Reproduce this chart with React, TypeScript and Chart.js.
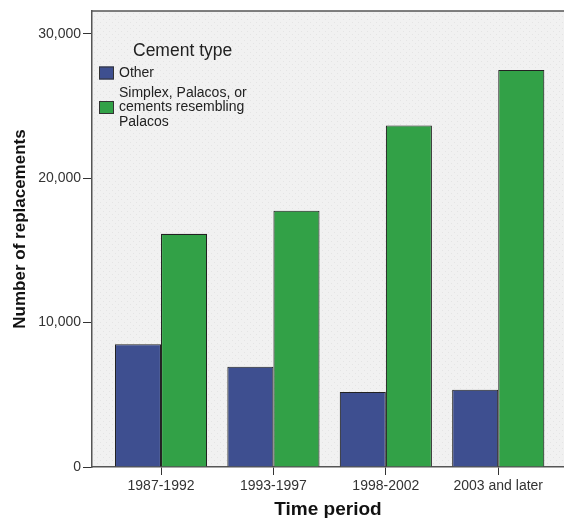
import { useEffect, useRef } from 'react';
import { Chart, registerables } from 'chart.js';

Chart.register(...registerables);

const categories = ['1987-1992', '1993-1997', '1998-2002', '2003 and later'];
const seriesNames = ['Other', 'Simplex, Palacos, or cements resembling Palacos'];
const legendLines = [['Other'], ['Simplex, Palacos, or', 'cements resembling', 'Palacos']];
const otherValues = [8500, 6950, 5200, 5350];
const simplexValues = [16150, 17750, 23650, 27500];
const yTicks = [0, 10000, 20000, 30000];
const legendTitle = 'Cement type';
const xTitle = 'Time period';
const yTitle = 'Number of replacements';

const FONT = "'Liberation Sans', Arial, sans-serif";
const COLORS = ['#3e4f90', '#32a147'];

function makePattern(ctx: CanvasRenderingContext2D) {
  const c = document.createElement('canvas');
  c.width = 6;
  c.height = 6;
  const p = c.getContext('2d')!;
  p.fillStyle = '#f1f1f1';
  p.fillRect(0, 0, 6, 6);
  p.fillStyle = '#e4e4e4';
  p.fillRect(1, 1, 1, 1);
  p.fillRect(4, 4, 1, 1);
  return ctx.createPattern(c, 'repeat');
}

const framePlugin = {
  id: 'frame',
  beforeDraw(chart: any) {
    const { ctx, chartArea } = chart;
    ctx.save();
    ctx.fillStyle = makePattern(ctx) || '#f1f1f1';
    ctx.fillRect(chartArea.left, chartArea.top, chartArea.right - chartArea.left, chartArea.bottom - chartArea.top);
    ctx.restore();
  },
  afterDraw(chart: any) {
    const { ctx, chartArea } = chart;
    ctx.save();
    ctx.strokeStyle = '#555';
    ctx.lineWidth = 1.5;
    ctx.beginPath();
    ctx.moveTo(chartArea.left, chartArea.top);
    ctx.lineTo(chartArea.right, chartArea.top);
    ctx.stroke();

    // y-axis title
    ctx.save();
    ctx.translate(20, 229);
    ctx.rotate(-Math.PI / 2);
    ctx.fillStyle = '#111';
    ctx.font = `bold 17px ${FONT}`;
    ctx.textAlign = 'center';
    ctx.textBaseline = 'middle';
    ctx.fillText(yTitle, 0, 0);
    ctx.restore();

    // legend
    const ds = chart.data.datasets;
    ctx.fillStyle = '#222';
    ctx.font = `17.5px ${FONT}`;
    ctx.textAlign = 'left';
    ctx.textBaseline = 'middle';
    ctx.fillText(legendTitle, 133, 51);
    ctx.font = `14px ${FONT}`;
    const boxX = 99;
    const starts = [73, 93];
    ds.forEach((d: any, i: number) => {
      const lines = legendLines[i];
      const y0 = starts[i];
      const lh = 14.5;
      const midY = y0 + ((lines.length - 1) * lh) / 2;
      ctx.fillStyle = d.backgroundColor;
      ctx.fillRect(boxX, midY - 6.5, 15, 13);
      ctx.strokeStyle = '#333';
      ctx.lineWidth = 1;
      ctx.strokeRect(boxX + 0.5, midY - 6, 14, 12);
      ctx.fillStyle = '#222';
      lines.forEach((t: string, j: number) => {
        ctx.fillText(t, 119, y0 + j * lh);
      });
    });
    ctx.restore();
  },
};

export default function App() {
  const ref = useRef<HTMLCanvasElement | null>(null);
  useEffect(() => {
    if (!ref.current) return;
    const chart = new Chart(ref.current, {
      type: 'bar',
      data: {
        datasets: [
          {
            label: seriesNames[0],
            data: otherValues.map((v, i) => ({ x: i, y: v })),
            backgroundColor: COLORS[0],
            borderColor: '#222',
            borderWidth: 1.1,
          },
          {
            label: seriesNames[1],
            data: simplexValues.map((v, i) => ({ x: i, y: v })),
            backgroundColor: COLORS[1],
            borderColor: '#222',
            borderWidth: 1.1,
          },
        ],
      },
      options: {
        responsive: false,
        animation: false,
        layout: { padding: { top: 11, right: 0, left: 0, bottom: 0 } },
        datasets: { bar: { categoryPercentage: 0.82, barPercentage: 1 } },
        plugins: { legend: { display: false }, tooltip: { enabled: false } },
        scales: {
          x: {
            type: 'linear',
            offset: false,
            min: -0.614,
            max: 3.585,
            afterBuildTicks: (scale: any) => {
              scale.ticks = categories.map((_, i) => ({ value: i }));
            },
            afterFit: (scale: any) => {
              scale.height = 51;
            },
            ticks: {
              autoSkip: false,
              maxRotation: 0,
              padding: 3,
              color: '#333',
              font: { family: FONT, size: 14 },
              callback: (v: any) => categories[v] ?? '',
            },
            grid: { offset: false, drawOnChartArea: false, drawTicks: true, tickLength: 8, color: '#333' },
            border: { display: true, color: '#555', width: 1.5 },
            title: {
              display: true,
              text: xTitle,
              color: '#111',
              font: { family: FONT, size: 19, weight: 'bold', lineHeight: 0.85 },
              padding: { top: 0, bottom: 0 },
            },
          },
          y: {
            min: 0,
            max: 31580,
            afterBuildTicks: (scale: any) => {
              scale.ticks = yTicks.map((v) => ({ value: v }));
            },
            afterFit: (scale: any) => {
              scale.width = 92;
            },
            ticks: {
              padding: 2,
              color: '#333',
              font: { family: FONT, size: 14 },
              callback: (v: any) => Number(v).toLocaleString('en-US'),
            },
            grid: { drawOnChartArea: false, drawTicks: true, tickLength: 9, color: '#333' },
            border: { display: true, color: '#555', width: 1.5 },
            title: { display: false },
          },
        },
      } as any,
      plugins: [framePlugin],
    });
    return () => chart.destroy();
  }, []);
  return (
    <div style={{ position: 'fixed', left: 0, top: 0, width: 564, height: 518, overflow: 'hidden', background: '#fff' }}>
      <canvas ref={ref} width={564} height={518} />
    </div>
  );
}
